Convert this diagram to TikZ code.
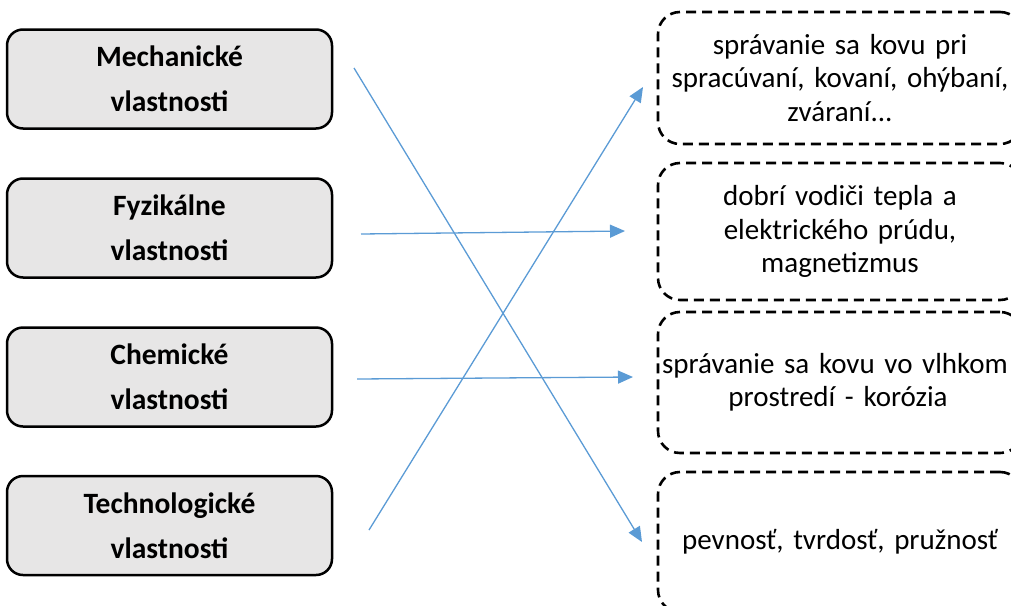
\documentclass[tikz,border=0pt]{standalone}
\usepackage{fontspec}
\setmainfont{Carlito}
\usetikzlibrary{arrows.meta}
\definecolor{arrowblue}{HTML}{5B9BD5}
\definecolor{boxgray}{HTML}{E7E6E6}
\tikzset{
  leftbox/.style={draw=black, line width=2.5pt, fill=boxgray, rounded corners=16pt,
    minimum width=325pt, minimum height=99pt, inner sep=0pt, align=center,
    font=\fontsize{29.5}{45}\selectfont\bfseries},
  rightbox/.style={draw=black, line width=2.6pt, dash pattern=on 10pt off 6pt, rounded corners=22pt,
    minimum width=364pt, inner sep=0pt, text width=362pt, align=center,
    font=\fontsize{29}{33.5}\selectfont},
  link/.style={draw=arrowblue, line width=1.3pt, -{Triangle[length=15pt,width=13pt]}}
}
\begin{document}
\begin{tikzpicture}[x=1pt,y=-1pt]
\useasboundingbox (0,0) rectangle (1011,605);
\node[leftbox] (mech) at (169.5,79) {Mechanické\\vlastnosti};
\node[leftbox] (fyz) at (169.5,228) {Fyzikálne\\vlastnosti};
\node[leftbox] (chem) at (169.5,377) {Chemické\\vlastnosti};
\node[leftbox] (tech) at (169.5,525.5) {Technologické\\vlastnosti};

\node[rightbox, minimum height=132pt] (r1) at (840,78) {správanie sa kovu pri\\spracúvaní, kovaní, ohýbaní,\\zváraní...};
\node[rightbox, minimum height=137pt] (r2) at (840,231.5) {dobrí vodiči tepla a\\elektrického prúdu,\\magnetizmus};
\node[rightbox, minimum height=141pt] (r3) at (840,382.5) {\hspace*{-10pt}správanie sa kovu vo vlhkom\\\hspace*{-4pt}prostredí - korózia};
\node[rightbox, minimum height=140pt] (r4) at (840,542) {pevnosť, tvrdosť, pružnosť};

\coordinate (s1) at (354,68);
\coordinate (e1) at (642,542);
\coordinate (s2) at (361,234);
\coordinate (e2) at (625,231);
\coordinate (s3) at (357,379);
\coordinate (e3) at (633,377);
\coordinate (s4) at (369,530);
\coordinate (e4) at (643,87);
\draw[link] (s1) -- (e1);
\draw[link] (s2) -- (e2);
\draw[link] (s3) -- (e3);
\draw[link] (s4) -- (e4);
\end{tikzpicture}
\end{document}
